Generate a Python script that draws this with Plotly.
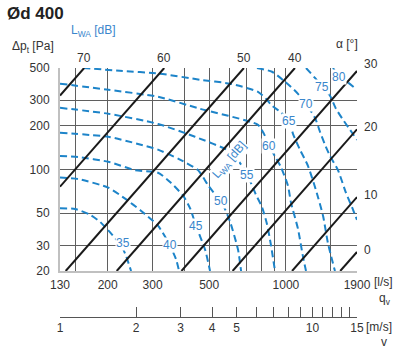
import numpy as np
import plotly.graph_objects as go

# ---------------- data ----------------
q_range = [130, 1900]          # l/s
dp_range = [20, 500]           # Pa
v_range = [1, 15]              # m/s

q_ticks = [130, 150, 200, 300, 400, 500, 600, 700, 800, 900, 1000, 1500, 1900]
q_tick_labels = ['130', '', '200', '300', '', '500', '', '', '', '', '1000', '', '1900']
dp_ticks = [20, 30, 50, 100, 200, 300, 500]
dp_tick_labels = ['20', '30', '50', '100', '200', '300', '500']
v_ticks = [1, 2, 3, 4, 5, 6, 7, 8, 9, 10, 11, 12, 13, 14, 15]
v_tick_labels = ['1', '2', '3', '4', '5', '', '', '', '', '10', '', '', '', '', '15']

# damper blade angle lines: pressure drop (Pa) at 1000 l/s, dp ~ q^2
damper_angles = [70, 60, 50, 40, 30, 20, 10, 0]
damper_dp_at_1000 = [19130, 4504, 1068, 425, 132, 52.4, 17.9, 7.5]

# sound power level curves LWA [dB]
lwa_levels = [35, 40, 45, 50, 55, 60, 65, 70, 75, 80]
lwa35_q = [130, 149, 170, 187, 204, 226, 236, 247]
lwa35_dp = [54, 53.5, 49, 43.5, 37, 30, 25.4, 20]
lwa40_q = [130, 153, 201, 234, 270, 315, 351, 371, 381]
lwa40_dp = [88, 86, 75, 63, 52, 41, 30, 24, 20]
lwa45_q = [130, 153, 201, 256, 315, 354, 395, 421, 444, 482, 504]
lwa45_dp = [124, 122, 113, 99, 95, 81, 66, 54, 41, 28, 20]
lwa50_q = [130, 201, 263, 315, 384, 452, 495, 532, 556, 603, 649, 667]
lwa50_dp = [179, 168, 150, 137, 117, 99, 78, 66, 61, 44, 28, 20]
lwa55_q = [130, 201, 315, 440, 609, 660, 704, 763, 806, 843, 874, 906]
lwa55_dp = [266, 242, 206, 168, 132, 111, 93, 67, 55, 42, 30, 20]
lwa60_q = [130, 201, 315, 460, 777, 820, 858, 914, 956, 1019, 1047, 1115, 1167, 1199]
lwa60_dp = [390, 354, 317, 262, 203, 176, 146, 120, 104, 77, 59, 39, 25, 20]
lwa65_q = [160, 223, 321, 460, 603, 777, 835, 882, 948, 1028, 1066, 1135, 1220, 1312, 1398, 1462, 1557]
lwa65_dp = [500, 479, 457, 415, 390, 343, 307, 275, 250, 217, 176, 137, 106, 72, 48, 31, 20]
lwa70_q = [770, 882, 992, 1105, 1199, 1300, 1360, 1423, 1489, 1600, 1720, 1816, 1900]
lwa70_dp = [500, 471, 402, 338, 284, 227, 182, 148, 124, 99, 69, 55, 45]
lwa75_q = [1199, 1300, 1385, 1489, 1572, 1675, 1783, 1900]
lwa75_dp = [500, 427, 372, 322, 262, 220, 188, 160]
lwa80_q = [1530, 1615, 1736, 1900]
lwa80_dp = [500, 435, 402, 354]

lwa_label_q = [230, 351, 444, 556, 704, 858, 1028, 1199, 1385, 1615]
lwa_label_dp = [31, 30, 41, 61, 92, 146, 217, 284, 372, 435]

lwa_curves = [
    (lwa35_q, lwa35_dp), (lwa40_q, lwa40_dp), (lwa45_q, lwa45_dp),
    (lwa50_q, lwa50_dp), (lwa55_q, lwa55_dp), (lwa60_q, lwa60_dp),
    (lwa65_q, lwa65_dp), (lwa70_q, lwa70_dp), (lwa75_q, lwa75_dp),
    (lwa80_q, lwa80_dp),
]

# ---------------- styles ----------------
FONT = "Liberation Sans, Arial, Helvetica, sans-serif"
BLUE = "#1d84c9"
BLUE_TXT = "#3a86cc"
DARK = "#333333"
GRID = "#5f5f5f"
AXIS_GRAY = "#c0c0c0"

W, H = 400, 355
ML, MR, MT, MB = 60, 43, 68, 38
PLOT_BOTTOM_PX = 271
paper_h = H - MT - MB
paper_w = W - ML - MR
y_dom0 = ((H - MB) - PLOT_BOTTOM_PX) / paper_h


def px(x):
    return (x - ML) / paper_w


def py(y):
    return ((H - MB) - y) / paper_h


fig = go.Figure()

# sound curves
for (qs, dps) in lwa_curves:
    fig.add_trace(go.Scatter(
        x=qs, y=dps, mode="lines",
        line=dict(color=BLUE, width=2, dash="7px,4px", shape="spline", smoothing=0.6),
        hoverinfo="skip", showlegend=False))

# damper lines
annotations = []
for ang, k in zip(damper_angles, damper_dp_at_1000):
    q_lo = max(q_range[0], 1000 * np.sqrt(dp_range[0] / k))
    q_hi = min(q_range[1], 1000 * np.sqrt(dp_range[1] / k))
    qs = np.array([q_lo, q_hi])
    dps = k * (qs / 1000.0) ** 2
    fig.add_trace(go.Scatter(
        x=qs, y=dps, mode="lines",
        line=dict(color="#1a1a1a", width=2),
        hoverinfo="skip", showlegend=False))
    if q_hi >= q_range[1] - 1e-6:
        annotations.append(dict(
            x=np.log10(q_hi), y=np.log10(dps[-1]), xref="x", yref="y",
            text=str(ang), showarrow=False, xanchor="left", yanchor="middle",
            xshift=5, yshift=7 if dps[-1] > 400 else 2,
            font=dict(size=12, color=DARK, family=FONT)))
    else:
        annotations.append(dict(
            x=np.log10(q_hi), y=np.log10(dps[-1]), xref="x", yref="y",
            text=str(ang), showarrow=False, xanchor="center", yanchor="bottom",
            yshift=1, font=dict(size=12, color=DARK, family=FONT)))

# invisible trace to activate velocity axis
fig.add_trace(go.Scatter(x=v_range, y=dp_range, xaxis="x2", yaxis="y",
                         mode="markers", marker=dict(opacity=0),
                         hoverinfo="skip", showlegend=False))

# level labels
for lvl, lq, ld in zip(lwa_levels, lwa_label_q, lwa_label_dp):
    annotations.append(dict(
        x=np.log10(lq), y=np.log10(ld), xref="x", yref="y",
        text=str(lvl), showarrow=False, bgcolor="white", borderpad=0,
        font=dict(size=12, color=BLUE_TXT, family=FONT)))

# diagonal LWA label
annotations.append(dict(
    x=np.log10(603), y=np.log10(117), xref="x", yref="y",
    text="L<sub>WA</sub> [dB]", showarrow=False, textangle=-49,
    bgcolor="white", borderpad=0,
    font=dict(size=12, color=BLUE_TXT, family=FONT)))


# text around the chart (paper coords from pixel positions)
def txt(text, x, y, xanchor="left", color=DARK, size=12):
    annotations.append(dict(
        x=px(x), y=py(y), xref="paper", yref="paper", text=text,
        showarrow=False, xanchor=xanchor, yanchor="middle",
        font=dict(size=size, color=color, family=FONT)))


txt("<b>Ød 400</b>", 5, 14, size=17, color="#222222")
txt("L<sub>WA</sub> [dB]", 69, 31, color=BLUE_TXT)
txt("Δp<sub>t</sub> [Pa]", 10, 47)
txt("α [°]", 347, 44, xanchor="center")
txt("[l/s]", 372, 282)
txt("q<sub>v</sub>", 377, 299)
txt("[m/s]", 364, 327)
txt("v", 379, 342)

fig.update_layout(
    width=W, height=H,
    margin=dict(l=ML, r=MR, t=MT, b=MB, pad=0),
    paper_bgcolor="white", plot_bgcolor="white",
    font=dict(family=FONT, size=12, color=DARK),
    showlegend=False,
    annotations=annotations,
    xaxis=dict(
        type="log", range=[np.log10(q_range[0]), np.log10(q_range[1])],
        domain=[0, 1], anchor="y",
        tickvals=q_ticks, ticktext=q_tick_labels, ticks="",
        showgrid=True, gridcolor=GRID, gridwidth=1,
        showline=True, linecolor=AXIS_GRAY, linewidth=2,
        zeroline=False, tickfont=dict(size=12, color=DARK, family=FONT),
        ticklabelstandoff=2),
    xaxis2=dict(
        type="log", range=[np.log10(v_range[0]), np.log10(v_range[1])],
        overlaying="x", anchor="free", position=0, side="bottom",
        tickvals=v_ticks, ticktext=v_tick_labels,
        ticks="inside", ticklen=10, tickcolor="#555555", tickwidth=1,
        showgrid=False, showline=True, linecolor="#555555", linewidth=1,
        zeroline=False, tickfont=dict(size=12, color=DARK, family=FONT)),
    yaxis=dict(
        type="log", range=[np.log10(dp_range[0]), np.log10(dp_range[1])],
        domain=[y_dom0, 1], anchor="x",
        tickvals=dp_ticks, ticktext=dp_tick_labels, ticks="",
        showgrid=True, gridcolor=GRID, gridwidth=1,
        showline=True, linecolor=AXIS_GRAY, linewidth=2,
        zeroline=False, tickfont=dict(size=12, color=DARK, family=FONT),
        ticklabelstandoff=6),
)

fig.write_html("out.html",
               config={"displayModeBar": False},
               post_script="document.body.style.margin='0';document.body.style.padding='0';")
